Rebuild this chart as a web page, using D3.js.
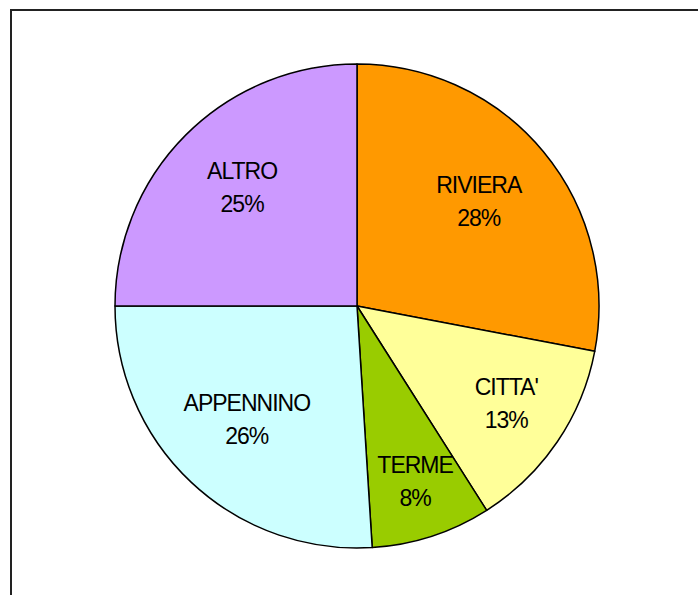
<!DOCTYPE html>
<html>
<head>
<meta charset="utf-8">
<script src="https://cdn.jsdelivr.net/npm/d3@7"></script>
<style>
  html, body { margin: 0; padding: 0; background: #fff; }
  svg { display: block; }
  .lbl { font-family: "Liberation Sans", Arial, sans-serif; font-size: 23px; fill: #000; letter-spacing: -1px; }
</style>
</head>
<body>
<div id="chart"></div>
<script>
// slices, clockwise from 12 o'clock
const categories = ["RIVIERA", "CITTA'", "TERME", "APPENNINO", "ALTRO"];
const values = [28, 13, 8, 26, 25];
const colors = ["#FF9900", "#FFFF99", "#99CC00", "#CCFFFF", "#CC99FF"];

const W = 698, H = 595;
const cx = 357, cy = 306, R = 242;

const svg = d3.select("#chart").append("svg")
    .attr("width", W)
    .attr("height", H);

// chart area frame (runs off the right/bottom edge)
svg.append("rect")
    .attr("x", 11).attr("y", 10)
    .attr("width", 720).attr("height", 620)
    .attr("fill", "#fff")
    .attr("stroke", "#222")
    .attr("stroke-width", 2);

const data = categories.map((c, i) => ({ name: c, value: values[i], color: colors[i] }));
const total = d3.sum(values);

const pie = d3.pie().sort(null).value(d => d.value);
const arc = d3.arc().innerRadius(0).outerRadius(R);

const g = svg.append("g").attr("transform", `translate(${cx},${cy})`);
const arcs = pie(data);

g.selectAll("path.slice")
    .data(arcs)
    .enter().append("path")
    .attr("class", "slice")
    .attr("d", arc)
    .attr("fill", d => d.data.color)
    .attr("stroke", "#000")
    .attr("stroke-width", 1.5)
    .attr("stroke-linejoin", "round");

// smaller slices get their label pushed further out (like excel's best fit)
const labelPos = d => {
    const r = 200 - 150 * (d.data.value / total);
    return d3.arc().innerRadius(r).outerRadius(r).centroid(d);
};

const lbl = g.selectAll("g.lbl-g")
    .data(arcs)
    .enter().append("g")
    .attr("class", "lbl-g")
    .attr("transform", d => `translate(${labelPos(d)})`);

lbl.append("text")
    .attr("class", "lbl")
    .attr("text-anchor", "middle")
    .attr("y", -12)
    .text(d => d.data.name);

lbl.append("text")
    .attr("class", "lbl")
    .attr("text-anchor", "middle")
    .attr("y", 21)
    .text(d => Math.round(d.data.value / total * 100) + "%");
</script>
</body>
</html>
